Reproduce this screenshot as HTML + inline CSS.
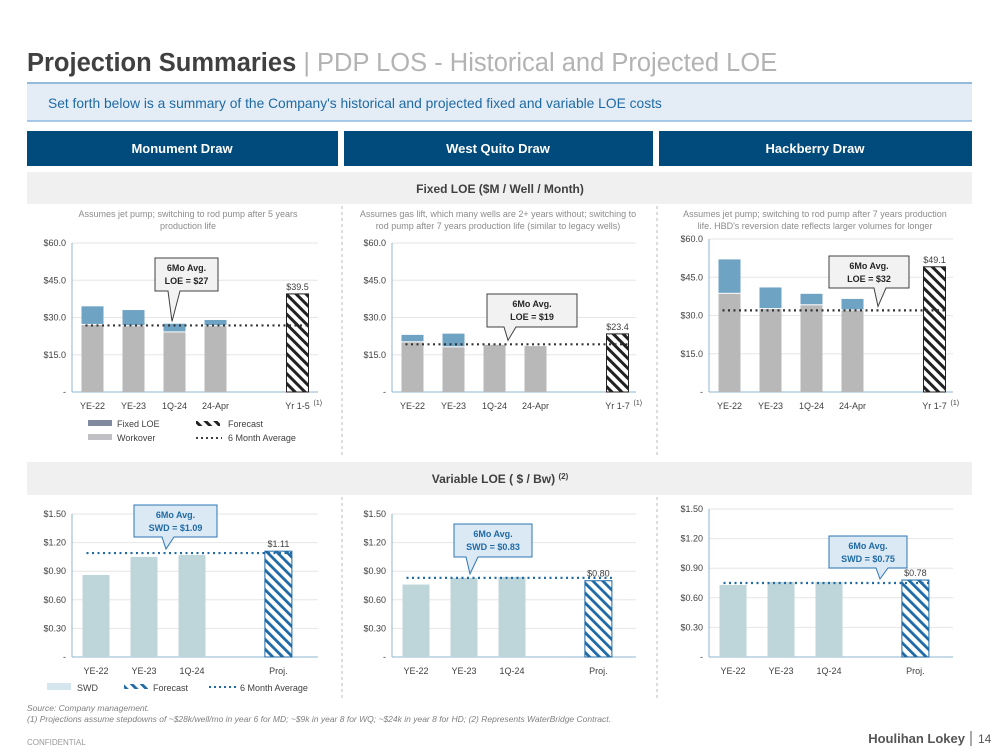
<!DOCTYPE html>
<html><head><meta charset="utf-8"><style>
body{margin:0;background:#fff;font-family:"Liberation Sans",sans-serif;}
svg{display:block}
</style></head><body>
<svg id="s" width="999" height="750" xmlns="http://www.w3.org/2000/svg" font-family="Liberation Sans, sans-serif">
<defs>
<pattern id="hatchK" patternUnits="userSpaceOnUse" width="7" height="7" patternTransform="rotate(-45)"><rect width="7" height="7" fill="#fff"/><rect width="3" height="7" fill="#222"/></pattern>
<pattern id="hatchB" patternUnits="userSpaceOnUse" width="7" height="7" patternTransform="rotate(-45)"><rect width="7" height="7" fill="#fff"/><rect width="2.8" height="7" fill="#1f6aa5"/></pattern>
</defs>
<g>
<text x="27" y="71" font-size="25.5" font-weight="bold" fill="#404040">Projection Summaries <tspan font-weight="normal" fill="#b3b3b3">| PDP LOS - Historical and Projected LOE</tspan></text>
</g>
<line x1="27" y1="83" x2="972" y2="83" stroke="#2e75b6" stroke-width="1"/>
<rect x="27" y="84" width="945" height="37" fill="#e4edf5"/>
<line x1="27" y1="121" x2="972" y2="121" stroke="#5b9bd5" stroke-width="1"/>
<text x="48" y="108" font-size="13.8" fill="#1f6aa5">Set forth below is a summary of the Company's historical and projected fixed and variable LOE costs</text>
<g>
<rect x="27" y="131" width="311" height="35" fill="#004b7c"/><text x="182" y="153" font-size="13" font-weight="bold" fill="#fff" text-anchor="middle">Monument Draw</text>
<rect x="344" y="131" width="309" height="35" fill="#004b7c"/><text x="498" y="153" font-size="13" font-weight="bold" fill="#fff" text-anchor="middle">West Quito Draw</text>
<rect x="659" y="131" width="313" height="35" fill="#004b7c"/><text x="815" y="153" font-size="13" font-weight="bold" fill="#fff" text-anchor="middle">Hackberry Draw</text>
</g>
<rect x="27" y="172" width="945" height="32" fill="#f0f0f0"/>
<text x="500" y="193" font-size="12" font-weight="bold" fill="#404040" text-anchor="middle">Fixed LOE ($M / Well / Month)</text>
<rect x="27" y="462" width="945" height="33" fill="#f0f0f0"/>
<text x="500" y="483" font-size="12" font-weight="bold" fill="#404040" text-anchor="middle">Variable LOE ( $ / Bw) <tspan font-size="8" dy="-4">(2)</tspan></text>
<g stroke="#bbb" stroke-dasharray="3,3">
<line x1="342" y1="206" x2="342" y2="455"/><line x1="657" y1="206" x2="657" y2="455"/>
<line x1="342" y1="497" x2="342" y2="700"/><line x1="657" y1="497" x2="657" y2="700"/>
</g>
<g font-size="9" fill="#8c8c8c" text-anchor="middle">
<text x="188" y="217">Assumes jet pump; switching to rod pump after 5 years</text><text x="188" y="229">production life</text>
<text x="498" y="217">Assumes gas lift, which many wells are 2+ years without; switching to</text><text x="498" y="229">rod pump after 7 years production life (similar to legacy wells)</text>
<text x="815" y="217">Assumes jet pump; switching to rod pump after 7 years production</text><text x="815" y="229">life. HBD's reversion date reflects larger volumes for longer</text>
</g>
<g id="charts"></g>
<g font-size="9" fill="#404040">
<rect x="88" y="420" width="24" height="6" fill="#7f8a9e"/><text x="117" y="427">Fixed LOE</text>
<rect x="88" y="434" width="24" height="6" fill="#c0c0c4"/><text x="117" y="441">Workover</text>
<rect x="196" y="421" width="24" height="5" fill="url(#hatchK)"/><text x="228" y="427">Forecast</text>
<line x1="196" y1="438" x2="222" y2="438" stroke="#404040" stroke-width="2" stroke-dasharray="2,3"/><text x="228" y="441">6 Month Average</text>
</g>
<g font-size="9" fill="#404040">
<rect x="47" y="683" width="24" height="7" fill="#d6e6ee"/><text x="77" y="691">SWD</text>
<rect x="124" y="684" width="24" height="5" fill="url(#hatchB)"/><text x="153" y="691">Forecast</text>
<line x1="209" y1="687" x2="236" y2="687" stroke="#1f6aa5" stroke-width="2" stroke-dasharray="2,3"/><text x="240" y="691">6 Month Average</text>
</g>
<g font-size="8.5" font-style="italic" fill="#808080">
<text x="27" y="711">Source: Company management.</text>
<text x="27" y="722">(1) Projections assume stepdowns of ~$28k/well/mo in year 6 for MD; ~$9k in year 8 for WQ; ~$24k in year 8 for HD; (2) Represents WaterBridge Contract.</text>
</g>
<text x="27" y="745" font-size="8" fill="#999">CONFIDENTIAL</text>
<text x="965" y="743" font-size="13" font-weight="bold" fill="#555" text-anchor="end">Houlihan Lokey</text>
<line x1="971" y1="731" x2="971" y2="746" stroke="#555"/>
<text x="978" y="743" font-size="12" fill="#555">14</text>
</svg>
<script>
// ---- data ----
const fixedCats = ["YE-22","YE-23","1Q-24","24-Apr"];
const mdFixed = [27, 26.5, 24, 26.5];
const mdWork = [7.5, 6.5, 3.5, 2.5];
const mdAvg = 26.8;
const mdForecast = 39.5;
const wqFixed = [20, 18, 19, 18.5];
const wqWork = [3, 5.5, 0, 0];
const wqAvg = 19.2;
const wqForecast = 23.4;
const hbFixed = [38.5, 32.5, 34, 32];
const hbWork = [13.5, 8.5, 4.5, 4.5];
const hbAvg = 32;
const hbForecast = 49.1;
const fixedTicks = [0,15,30,45,60];
const fixedTickLabels = ["-","$15.0","$30.0","$45.0","$60.0"];
const varCats = ["YE-22","YE-23","1Q-24"];
const mdSwd = [0.86, 1.05, 1.07];
const mdSwdAvg = 1.09;
const mdSwdProj = 1.11;
const wqSwd = [0.76, 0.83, 0.84];
const wqSwdAvg = 0.83;
const wqSwdProj = 0.80;
const hbSwd = [0.73, 0.76, 0.76];
const hbSwdAvg = 0.75;
const hbSwdProj = 0.78;
const varTicks = [0,0.3,0.6,0.9,1.2,1.5];
const varTickLabels = ["-","$0.30","$0.60","$0.90","$1.20","$1.50"];

const NS="http://www.w3.org/2000/svg";
const root=document.getElementById('charts');
function mk(tag,attrs,parent){const e=document.createElementNS(NS,tag);for(const k in attrs)e.setAttribute(k,attrs[k]);(parent||root).appendChild(e);return e;}
function txt(x,y,s,attrs,parent){const t=mk('text',Object.assign({x:x,y:y},attrs),parent);t.textContent=s;return t;}

function chart(c){
  const g=mk('g',{});
  
  
  const y=v=>c.bottom-(v/c.max)*(c.bottom-c.top);
  const x=i=>c.left+c.slot*(i+0.5);
  c.ticks.forEach((t,i)=>{
    if(i>0) mk('line',{x1:c.left,x2:c.right,y1:y(t),y2:y(t),stroke:'#e6e6e6'},g);
    txt(c.left-6,y(t)+3,c.tickLabels[i],{'font-size':9,fill:'#404040','text-anchor':'end'},g);
  });
  mk('line',{x1:c.left,x2:c.left,y1:c.top,y2:c.bottom,stroke:'#8fb4cf'},g);
  mk('line',{x1:c.left,x2:c.right,y1:c.bottom,y2:c.bottom,stroke:'#8fb4cf'},g);
  c.cats.forEach((cat,i)=>{
    const cx=x(i);
    const b1=mk('rect',{x:cx-c.bw/2,y:y(c.base[i]),width:c.bw,height:c.bottom-y(c.base[i]),fill:c.baseColor},g);
    
    
    if(c.top2){
      const h=c.top2[i];
      if(h>0){const b2=mk('rect',{x:cx-c.bw/2,y:y(c.base[i]+h),width:c.bw,height:y(c.base[i])-y(c.base[i]+h)-1,fill:'#6fa3c4'},g);
      
      }
    }
    txt(cx,c.bottom+17,cat,{'font-size':9,fill:'#404040','text-anchor':'middle'},g);
  });
  const fx=x(c.fIdx);
  const fb=mk('rect',{x:fx-c.bw/2,y:y(c.forecast),width:c.bw,height:c.bottom-y(c.forecast),fill:c.hatch,stroke:c.hatchStroke,'stroke-width':1},g);
  
  
  txt(fx,y(c.forecast)-4,c.fmt(c.forecast),{'font-size':9,fill:'#404040','text-anchor':'middle'},g);
  txt(fx,c.bottom+17,c.fLabel,{'font-size':9,fill:'#404040','text-anchor':'middle'},g);
  if(c.sup) txt(fx+c.bw/2+5,c.bottom+13,'(1)',{'font-size':7,fill:'#404040'},g);
  const al=mk('line',{x1:x(0)-c.bw/2+4,x2:fx+c.bw/2,y1:y(c.avg),y2:y(c.avg),stroke:c.avgColor,'stroke-width':2.2,'stroke-dasharray':'2,3.5'},g);
  
  
  const b=c.box, px=c.ptr;
  const cg=mk('g',{},g);
  
  
  mk('path',{d:`M${b[0]},${b[1]} H${b[0]+b[2]} V${b[1]+b[3]} H${px+8} L${px},${y(c.avg)-4} L${px-4},${b[1]+b[3]} H${b[0]} Z`,fill:c.boxFill,stroke:c.boxStroke,'stroke-width':1},cg);
  txt(b[0]+b[2]/2,b[1]+13,'6Mo Avg.',{'font-size':9,'font-weight':'bold',fill:c.boxText,'text-anchor':'middle'},cg);
  txt(b[0]+b[2]/2,b[1]+26,c.boxLine2,{'font-size':9,'font-weight':'bold',fill:c.boxText,'text-anchor':'middle'},cg);
}
const f1=v=>'$'+v.toFixed(1), f2=v=>'$'+v.toFixed(2);
const fixedCommon={cats:fixedCats,max:60,ticks:fixedTicks,tickLabels:fixedTickLabels,bottom:392,bw:22,slot:41,fIdx:5,baseColor:'#b8b8b8',hatch:'url(#hatchK)',hatchStroke:'#222',avgColor:'#333',fmt:f1,sup:true,boxFill:'#f2f2f2',boxStroke:'#404040',boxText:'#262626'};
chart(Object.assign({},fixedCommon,{name:'md-fixed-loe-chart',left:72,right:318,top:243,base:mdFixed,top2:mdWork,avg:mdAvg,forecast:mdForecast,fLabel:'Yr 1-5',box:[155,258,63,33],ptr:172,boxLine2:'LOE = $27'}));
chart(Object.assign({},fixedCommon,{name:'wq-fixed-loe-chart',left:392,right:636,top:243,base:wqFixed,top2:wqWork,avg:wqAvg,forecast:wqForecast,fLabel:'Yr 1-7',box:[487,294,90,33],ptr:508,boxLine2:'LOE = $19'}));
chart(Object.assign({},fixedCommon,{name:'hb-fixed-loe-chart',left:709,right:953,top:239,base:hbFixed,top2:hbWork,avg:hbAvg,forecast:hbForecast,fLabel:'Yr 1-7',box:[829,256,80,32],ptr:878,boxLine2:'LOE = $32'}));
const varCommon={cats:varCats,max:1.5,ticks:varTicks,tickLabels:varTickLabels,bottom:657,bw:27,slot:48,fIdx:3.8,baseColor:'#bed6da',hatch:'url(#hatchB)',hatchStroke:'#1f6aa5',avgColor:'#1f6aa5',fmt:f2,sup:false,boxFill:'#dbe9f4',boxStroke:'#2e75b6',boxText:'#1f6aa5',fLabel:'Proj.'};
chart(Object.assign({},varCommon,{name:'md-variable-loe-chart',left:72,right:318,top:514,base:mdSwd,avg:mdSwdAvg,forecast:mdSwdProj,box:[134,505,83,32],ptr:166,boxLine2:'SWD = $1.09'}));
chart(Object.assign({},varCommon,{name:'wq-variable-loe-chart',left:392,right:636,top:514,base:wqSwd,avg:wqSwdAvg,forecast:wqSwdProj,box:[454,524,78,33],ptr:470,boxLine2:'SWD = $0.83'}));
chart(Object.assign({},varCommon,{name:'hb-variable-loe-chart',left:709,right:953,top:509,base:hbSwd,avg:hbSwdAvg,forecast:hbSwdProj,box:[829,536,78,32],ptr:880,boxLine2:'SWD = $0.75'}));
</script>
</body></html>
